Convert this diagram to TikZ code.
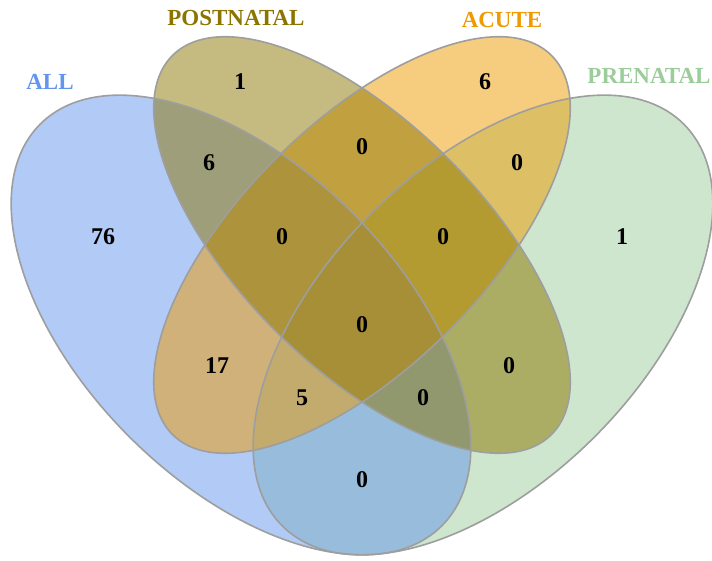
\documentclass[tikz,border=0pt]{standalone}
\usepackage{fontspec}
\setmainfont{Liberation Serif}
\usepackage{tikz}
\definecolor{allblue}{RGB}{100,149,237}
\definecolor{postgold}{RGB}{139,117,0}
\definecolor{acuteorange}{RGB}{238,154,0}
\definecolor{pregreen}{RGB}{155,205,155}
\definecolor{rimgray}{RGB}{158,158,158}
\tikzset{
  setshape/.style={fill opacity=0.5},
  setrim/.style={draw=rimgray, line width=1.6pt},
  count/.style={font=\fontsize{24}{24}\selectfont\bfseries, text=black},
  setname/.style={font=\fontsize{23}{23}\selectfont\bfseries}
}
\begin{document}
\begin{tikzpicture}[x=1pt,y=1pt]
\useasboundingbox (0,0) rectangle (712,561);
% the four sets, bottom to top
\fill[pregreen, setshape, rotate around={45:(483,236)}] (483,236) ellipse [x radius=284, y radius=158];
\fill[allblue, setshape, rotate around={-45:(241,236)}] (241,236) ellipse [x radius=284, y radius=158];
\fill[acuteorange, setshape, rotate around={45:(362,316)}] (362,316) ellipse [x radius=268, y radius=122];
\fill[postgold, setshape, rotate around={-45:(362,316)}] (362,316) ellipse [x radius=268, y radius=122];
% outlines on top
\draw[setrim, rotate around={-45:(241,236)}] (241,236) ellipse [x radius=284, y radius=158];
\draw[setrim, rotate around={-45:(362,316)}] (362,316) ellipse [x radius=268, y radius=122];
\draw[setrim, rotate around={45:(362,316)}] (362,316) ellipse [x radius=268, y radius=122];
\draw[setrim, rotate around={45:(483,236)}] (483,236) ellipse [x radius=284, y radius=158];
% set names
\node[setname, text=allblue] (nameall) at (50,479) {ALL};
\node[setname, text=postgold] (namepost) at (236,543) {POSTNATAL};
\node[setname, text=acuteorange] (nameacute) at (502,541) {ACUTE};
\node[setname, text=pregreen] (namepre) at (649,485) {PRENATAL};
% counts
\node[count] (p) at (240,479) {1};
\node[count] (c) at (485,479) {6};
\node[count] (ap) at (209,398) {6};
\node[count] (pc) at (362,414) {0};
\node[count] (cr) at (517,398) {0};
\node[count] (a) at (103,324) {76};
\node[count] (apc) at (282,324) {0};
\node[count] (pcr) at (443,324) {0};
\node[count] (r) at (622,324) {1};
\node[count] (apcr) at (362,236) {0};
\node[count] (ac) at (217,195) {17};
\node[count] (pr) at (509,195) {0};
\node[count] (acr) at (302,163) {5};
\node[count] (apr) at (423,163) {0};
\node[count] (ar) at (362,81) {0};
\end{tikzpicture}
\end{document}
